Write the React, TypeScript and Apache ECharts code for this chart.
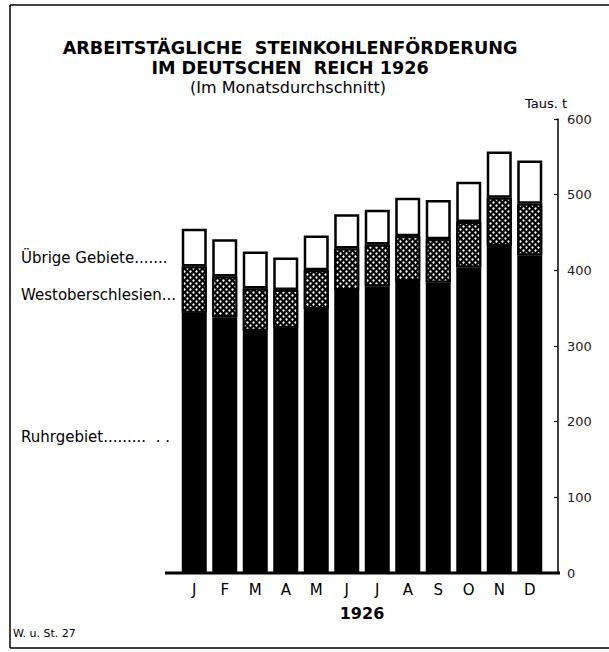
import React, { useEffect, useRef } from "react";
import * as echarts from "echarts";

const months = ["J", "F", "M", "A", "M", "J", "J", "A", "S", "O", "N", "D"];
const ruhrgebiet = [344, 338, 320, 324, 349, 374, 379, 386, 384, 404, 432, 420];
const westoberschlesien = [61, 54, 56, 50, 51, 55, 55, 59, 57, 60, 64, 68];
const uebrigeGebiete = [50, 49, 49, 43, 46, 45, 46, 51, 52, 53, 61, 57];
const yTicks = [0, 100, 200, 300, 400, 500, 600];

const FONT = "DejaVu Sans";

export default function App() {
  const ref = useRef<HTMLDivElement>(null);
  useEffect(() => {
    if (!ref.current) return;
    const chart = echarts.init(ref.current, undefined, { renderer: "svg" });
    const barBase = { type: "bar", stack: "total", barWidth: 25 };
    chart.setOption({
      animation: false,
      backgroundColor: "#fff",
      title: {
        text: "ARBEITSTÄGLICHE  STEINKOHLENFÖRDERUNG\nIM DEUTSCHEN  REICH 1926",
        left: 285,
        top: 33,
        textAlign: "center",
        textStyle: { fontFamily: FONT, fontWeight: "bold", fontSize: 17.6, lineHeight: 20, color: "#000" },
      },
      grid: { left: 179, right: 64, top: 119, bottom: 79 },
      xAxis: {
        type: "category",
        data: months,
        axisLine: { show: false },
        axisTick: { show: false },
        axisLabel: { fontFamily: FONT, fontSize: 15, color: "#000", margin: 9 },
        name: "1926",
        nameLocation: "middle",
        nameGap: 32,
        nameTextStyle: { fontFamily: FONT, fontWeight: "bold", fontSize: 16, color: "#000" },
      },
      yAxis: {
        type: "value",
        position: "right",
        offset: 13,
        min: yTicks[0],
        max: yTicks[yTicks.length - 1],
        interval: 100,
        splitLine: { show: false },
        axisLine: { show: true, lineStyle: { color: "#000", width: 1.5 } },
        axisTick: { show: true, inside: true, length: 4, lineStyle: { color: "#000", width: 1.2 } },
        axisLabel: { fontFamily: FONT, fontSize: 13, color: "#222", margin: 9 },
      },
      series: [
        {
          ...barBase,
          name: "Ruhrgebiet",
          data: ruhrgebiet,
          itemStyle: { color: "#000", borderColor: "#000", borderWidth: 2 },
        },
        {
          ...barBase,
          name: "Westoberschlesien",
          data: westoberschlesien,
          itemStyle: {
            color: "#000",
            borderColor: "#000",
            borderWidth: 2,
            decal: {
              symbol: "circle",
              symbolSize: 0.8,
              color: "#fff",
              dashArrayX: [[3, 3], [0, 3, 3, 0]],
              dashArrayY: [3, 0],
              rotation: 0,
            },
          },
        },
        {
          ...barBase,
          name: "Übrige Gebiete",
          data: uebrigeGebiete,
          itemStyle: { color: "#fff", borderColor: "#000", borderWidth: 2.5 },
        },
      ],
      graphic: [
        { type: "line", shape: { x1: 10, y1: 5, x2: 10, y2: 648 }, style: { stroke: "#000", lineWidth: 1.5 } },
        { type: "line", shape: { x1: 10, y1: 5, x2: 609, y2: 5 }, style: { stroke: "#000", lineWidth: 1.5 } },
        { type: "line", shape: { x1: 10, y1: 648, x2: 609, y2: 648 }, style: { stroke: "#000", lineWidth: 1.5 } },
        { type: "line", shape: { x1: 165, y1: 573, x2: 560, y2: 573 }, style: { stroke: "#000", lineWidth: 3 } },
        {
          type: "text",
          x: 288,
          y: 79,
          style: { text: "(Im Monatsdurchschnitt)", fontFamily: FONT, fontSize: 16, fill: "#000", align: "center" },
        },
        {
          type: "text",
          x: 525,
          y: 97,
          style: { text: "Taus. t", fontFamily: FONT, fontSize: 13, fill: "#000" },
        },
        {
          type: "text",
          x: 21,
          y: 250,
          style: { text: "Übrige Gebiete.......", fontFamily: FONT, fontSize: 15, fill: "#000" },
        },
        {
          type: "text",
          x: 21,
          y: 287,
          style: { text: "Westoberschlesien...", fontFamily: FONT, fontSize: 15, fill: "#000" },
        },
        {
          type: "text",
          x: 21,
          y: 429,
          style: { text: "Ruhrgebiet.........  . .", fontFamily: FONT, fontSize: 15, fill: "#000" },
        },
        {
          type: "text",
          x: 13,
          y: 628,
          style: { text: "W. u. St. 27", fontFamily: FONT, fontSize: 11, fill: "#000" },
        },
      ],
    });
    return () => chart.dispose();
  }, []);
  return (
    <div
      ref={ref}
      style={{ position: "fixed", left: 0, top: 0, width: 609, height: 652, background: "#fff" }}
    />
  );
}
